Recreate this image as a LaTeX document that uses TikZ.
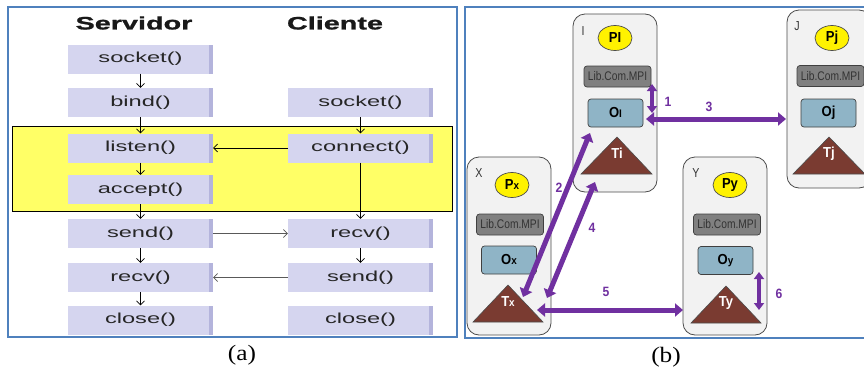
\documentclass[tikz,border=0pt]{standalone}
\usepackage{fontspec}
\setmainfont{Liberation Serif}
\newfontfamily\afont[FakeStretch=1.63]{Liberation Sans}
\newfontfamily\tfont[FakeStretch=1.6,FakeBold=1.2]{Liberation Sans Bold}
\newfontfamily\bfont[FakeStretch=0.82]{Liberation Sans}
\newfontfamily\bbfont[FakeStretch=0.9]{Liberation Sans Bold}
\newfontfamily\capfont[FakeStretch=1.15]{Liberation Serif}
\usetikzlibrary{arrows.meta,shapes.geometric}
\definecolor{frameblue}{HTML}{4F81BD}
\definecolor{lav}{HTML}{D5D5EF}
\definecolor{lavdark}{HTML}{B4B4DC}
\definecolor{yel}{HTML}{FFFF66}
\definecolor{procbg}{HTML}{F2F2F2}
\definecolor{libgray}{HTML}{808080}
\definecolor{oblue}{HTML}{8FB4C6}
\definecolor{tbrown}{HTML}{7A3B31}
\definecolor{purp}{HTML}{7030A0}
\tikzset{
  fn/.style={draw=none, fill=lav, minimum width=145pt, minimum height=29pt, inner sep=0pt,
    font={\afont\fontsize{14.5}{16}\selectfont}, text=black!85,
    path picture={\fill[lavdark] ([xshift=-4pt]path picture bounding box.north east) rectangle (path picture bounding box.south east);}},
  arr/.style={-{Straight Barb[length=4pt,width=8pt]}, line width=0.7pt, draw=black},
  garr/.style={arr, draw=black!65},
  ttl/.style={font={\tfont\fontsize{18}{20}\selectfont}, text=black!90},
  proc/.style={draw=black!70, fill=procbg, rounded corners=12pt, line width=0.8pt, minimum width=84pt, minimum height=178pt, inner sep=0pt},
  plbl/.style={font={\bfont\fontsize{13}{14}\selectfont}, text=black!80, inner sep=0pt},
  pcirc/.style={ellipse, draw=black!70, fill=yellow, line width=0.7pt, minimum width=34pt, minimum height=25pt, inner sep=0pt, font={\bbfont\fontsize{14.5}{15}\selectfont}},
  lib/.style={draw=black!75, fill=libgray, rounded corners=3pt, line width=0.7pt, minimum width=67pt, minimum height=21pt, inner sep=0pt, font={\bfont\fontsize{12.5}{13}\selectfont}, text=black!80},
  obox/.style={draw=black!75, fill=oblue, rounded corners=3pt, line width=0.7pt, minimum width=55pt, minimum height=28pt, inner sep=0pt, font={\bbfont\fontsize{14.5}{15}\selectfont}},
  tri/.style={fill=tbrown, draw=black!70, line width=0.6pt},
  ttxt/.style={text=white, inner sep=0pt, font={\bbfont\fontsize{14.5}{15}\selectfont}},
  parr/.style={line width=5pt, draw=purp, {Triangle[length=8pt,width=13pt]}-{Triangle[length=8pt,width=13pt]}},
  parrs/.style={line width=4pt, draw=purp, {Triangle[length=7pt,width=10pt]}-{Triangle[length=7pt,width=10pt]}},
  num/.style={text=purp, inner sep=0pt, font={\bbfont\fontsize{13.5}{14}\selectfont}},
  capt/.style={font={\capfont\fontsize{22}{24}\selectfont}, inner sep=0pt}
}
\newcommand{\sm}[1]{{\fontsize{11}{11}\selectfont #1}}
\begin{document}
\begin{tikzpicture}[x=1pt,y=-1pt]
\useasboundingbox (0,0) rectangle (864,372);
\clip (0,0) rectangle (864,372);
\fill[white] (0,0) rectangle (864,372);
% ---------- panel (a)
\draw[frameblue, line width=1.5pt] (8,7) rectangle (457,337);
\node[ttl] (tS) at (134,23) {Servidor};
\node[ttl] (tC) at (335,23) {Cliente};
\filldraw[fill=yel, draw=black, line width=0.8pt] (12,126) rectangle (452,211);
\node[fn] (s1) at (140.5,59) {socket()};
\node[fn] (s2) at (140.5,102.5) {bind()};
\node[fn] (s3) at (140.5,148) {listen()};
\node[fn] (s4) at (140.5,189.5) {accept()};
\node[fn] (s5) at (140.5,233.5) {send()};
\node[fn] (s6) at (140.5,277.5) {recv()};
\node[fn] (s7) at (140.5,320) {close()};
\node[fn] (c1) at (360.5,102.5) {socket()};
\node[fn] (c2) at (360.5,148) {connect()};
\node[fn] (c3) at (360.5,233.5) {recv()};
\node[fn] (c4) at (360.5,277.5) {send()};
\node[fn] (c5) at (360.5,320) {close()};
\draw[arr] (s1) -- (s2);
\draw[arr] (s2) -- (s3);
\draw[arr] (s3) -- (s4);
\draw[arr] (s4) -- (s5);
\draw[arr] (s5) -- (s6);
\draw[arr] (s6) -- (s7);
\draw[arr] (c1) -- (c2);
\draw[arr] (c2) -- (c3);
\draw[arr] (c3) -- (c4);
\draw[arr] (c2.west) -- (s3.east);
\draw[garr] (s5.east) -- (c3.west);
\draw[garr] (c4.west) -- (s6.east);
\node[capt] (capa) at (242,355) {(a)};
% ---------- panel (b)
\draw[frameblue, line width=1.5pt] (465,7) rectangle (875,338);
\node[capt] (capb) at (666,357) {(b)};
% process boxes
\node[proc] (boxI) at (615,103) {};
\node[proc] (boxJ) at (829,99) {};
\node[proc] (boxX) at (509,246) {};
\node[proc] (boxY) at (725,246) {};
\node[plbl] (lI) at (583,31) {I};
\node[plbl] (lJ) at (797,26) {J};
\node[plbl] (lX) at (479,173) {X};
\node[plbl] (lY) at (696,173) {Y};
% circles
\node[pcirc] (pI) at (615,38) {PI};
\node[pcirc] (pJ) at (832,38) {Pj};
\node[pcirc] (pX) at (512,185) {P\sm{x}};
\node[pcirc] (pY) at (730,185) {Py};
% lib boxes
\node[lib] (libI) at (617.5,76.5) {Lib.Com.MPI};
\node[lib] (libJ) at (830.5,76) {Lib.Com.MPI};
\node[lib] (libX) at (510,224.5) {Lib.Com.MPI};
\node[lib] (libY) at (727,224.5) {Lib.Com.MPI};
% object boxes
\node[obox] (oI) at (615.5,113) {O\sm{I}};
\node[obox] (oJ) at (828.5,113) {Oj};
\node[obox] (oX) at (509,260) {O\sm{x}};
\node[obox] (oY) at (725.5,260.5) {O\sm{y}};
% triangles
\draw[tri] (617,137) -- (652,174) -- (581,174) -- cycle;
\draw[tri] (829,137) -- (865,174) -- (793,174) -- cycle;
\draw[tri] (508,285) -- (543,322) -- (473,322) -- cycle;
\draw[tri] (726,286) -- (761,323) -- (691,323) -- cycle;
\node[ttxt] (tI) at (617,153) {Ti};
\node[ttxt] (tJ) at (829,154) {Tj};
\node[ttxt] (tX) at (508,302) {T\sm{x}};
\node[ttxt] (tY) at (726,303) {Ty};
% arrow end points
\coordinate (a1s) at (652,84);
\coordinate (a1e) at (652,113);
\coordinate (a3s) at (646,119);
\coordinate (a3e) at (786,119);
\coordinate (a2s) at (523,297);
\coordinate (a2e) at (590,133);
\coordinate (a4s) at (595,182);
\coordinate (a4e) at (547,298);
\coordinate (a5s) at (537,310);
\coordinate (a5e) at (683,310);
\coordinate (a6s) at (759,272);
\coordinate (a6e) at (759,310);
\draw[parrs] (a1s) -- (a1e);
\draw[parr] (a3s) -- (a3e);
\draw[parr] (a2s) -- (a2e);
\draw[parr] (a4s) -- (a4e);
\draw[parr] (a5s) -- (a5e);
\draw[parrs] (a6s) -- (a6e);
\node[num] (n1) at (668,102) {1};
\node[num] (n2) at (559,188) {2};
\node[num] (n3) at (709,107) {3};
\node[num] (n4) at (592,228) {4};
\node[num] (n5) at (606,292) {5};
\node[num] (n6) at (779,294) {6};
\end{tikzpicture}
\end{document}
